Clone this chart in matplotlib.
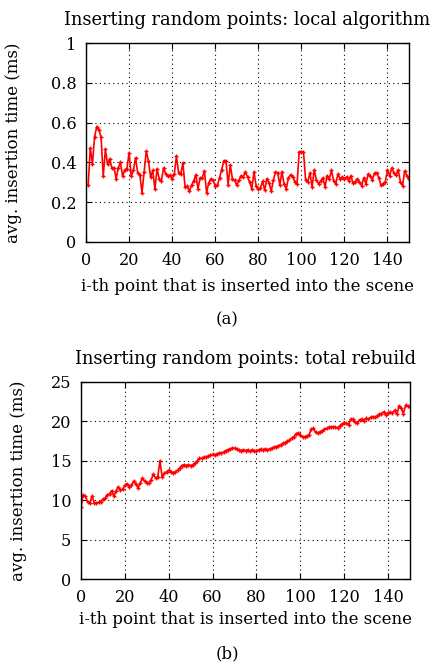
import numpy as np
import matplotlib
matplotlib.use("Agg")
import matplotlib.pyplot as plt

# avg. insertion time (ms), local algorithm
local_ms = [
    0.285, 0.473, 0.393, 0.53, 0.58, 0.563, 0.527, 0.33, 0.465, 0.39,
    0.418, 0.373, 0.372, 0.318, 0.373, 0.4, 0.33, 0.363, 0.368, 0.448,
    0.33, 0.36, 0.423, 0.347, 0.338, 0.248, 0.352, 0.457, 0.407, 0.327,
    0.36, 0.265, 0.368, 0.317, 0.307, 0.372, 0.343, 0.33, 0.335, 0.318,
    0.34, 0.432, 0.347, 0.342, 0.398, 0.277, 0.28, 0.255, 0.285, 0.307,
    0.338, 0.268, 0.322, 0.323, 0.357, 0.247, 0.298, 0.317, 0.31, 0.282,
    0.285, 0.322, 0.363, 0.408, 0.408, 0.288, 0.387, 0.317, 0.31, 0.285,
    0.31, 0.333, 0.327, 0.352, 0.327, 0.3, 0.268, 0.352, 0.283, 0.265,
    0.272, 0.305, 0.26, 0.318, 0.298, 0.255, 0.31, 0.352, 0.348, 0.288,
    0.352, 0.29, 0.268, 0.322, 0.338, 0.327, 0.302, 0.29, 0.453, 0.453,
    0.453, 0.31, 0.302, 0.347, 0.277, 0.363, 0.31, 0.293, 0.307, 0.322,
    0.277, 0.333, 0.318, 0.36, 0.307, 0.293, 0.34, 0.318, 0.327, 0.317,
    0.327, 0.307, 0.332, 0.297, 0.302, 0.318, 0.302, 0.283, 0.322, 0.293,
    0.34, 0.332, 0.313, 0.347, 0.347, 0.322, 0.285, 0.293, 0.302, 0.363,
    0.332, 0.372, 0.347, 0.335, 0.363, 0.302, 0.283, 0.357, 0.332, 0.315,
]

# avg. insertion time (ms), total rebuild
rebuild_ms = [
    9.1, 10.7, 10.5, 9.8, 9.6, 10.5, 9.7, 9.6, 9.75, 9.8,
    10.1, 10.25, 10.7, 10.8, 11.2, 10.5, 11.2, 11.7, 11.3, 11.4,
    11.9, 12.1, 11.7, 11.9, 12.4, 12.0, 11.6, 12.15, 12.8, 12.4,
    12.15, 12.2, 12.6, 13.3, 12.8, 13.0, 15.0, 12.9, 13.4, 13.6,
    13.8, 13.6, 13.5, 13.6, 13.8, 14.1, 14.4, 14.5, 14.4, 14.5,
    14.4, 14.5, 14.7, 15.0, 15.3, 15.3, 15.45, 15.45, 15.6, 15.7,
    15.8, 15.7, 15.9, 15.95, 16.0, 16.1, 16.3, 16.4, 16.5, 16.6,
    16.6, 16.5, 16.4, 16.3, 16.4, 16.3, 16.4, 16.2, 16.4, 16.3,
    16.25, 16.4, 16.45, 16.4, 16.5, 16.4, 16.5, 16.6, 16.7, 16.8,
    16.9, 17.05, 17.2, 17.3, 17.5, 17.6, 17.85, 18.05, 18.4, 18.55,
    18.3, 18.05, 18.05, 18.15, 18.3, 19.0, 19.1, 18.6, 18.5, 18.7,
    18.8, 19.0, 19.1, 19.25, 19.25, 19.3, 19.25, 19.2, 19.45, 19.7,
    19.75, 19.75, 19.6, 20.3, 20.25, 19.9, 19.8, 20.2, 20.3, 20.1,
    20.4, 20.25, 20.5, 20.6, 20.5, 20.7, 20.9, 21.0, 21.2, 20.8,
    21.1, 21.15, 21.1, 21.4, 20.9, 21.95, 21.65, 21.0, 22.05, 21.95,
    21.85,
]

x_ticks = [0, 20, 40, 60, 80, 100, 120, 140]
local_yticks = [0, 0.2, 0.4, 0.6, 0.8, 1]
local_ylabels = ["0", "0.2", "0.4", "0.6", "0.8", "1"]
rebuild_yticks = [0, 5, 10, 15, 20, 25]

plt.rcParams["font.family"] = ["DejaVu Serif"]
plt.rcParams["font.size"] = 12

fig = plt.figure(figsize=(4.33, 6.66), dpi=100)
ax1 = fig.add_axes([86 / 433, 1 - 242 / 666, 323 / 433, 199 / 666])
ax2 = fig.add_axes([81 / 433, 1 - 579 / 666, 329 / 433, 197 / 666])


def style(ax, xlab_y, ylab_x):
    ax.grid(True, linestyle=(0, (1, 3)), color="black", linewidth=0.8)
    ax.tick_params(direction="in", top=True, right=True, length=4,
                   labelsize=11.6)
    ax.tick_params(axis="x", pad=7)
    ax.tick_params(axis="y", pad=7)
    ax.set_xlim(0, 150)
    ax.set_xticks(x_ticks)
    for s in ax.spines.values():
        s.set_linewidth(1.0)
    ax.set_xlabel("i-th point that is inserted into the scene", fontsize=12)
    ax.set_ylabel("avg. insertion time (ms)", fontsize=12)
    ax.xaxis.set_label_coords(0.5, xlab_y)
    ax.yaxis.set_label_coords(ylab_x, 0.5)


ax1.plot(np.arange(1, len(local_ms) + 1), local_ms, color="red", lw=1.2,
         marker="+", ms=3.5, mew=1.0)
style(ax1, -0.183, -0.198)
ax1.set_ylim(0, 1)
ax1.set_yticks(local_yticks)
ax1.set_yticklabels(local_ylabels)
ax1.set_title("Inserting random points: local algorithm", pad=13, fontsize=12.9)

ax2.plot(np.arange(0, len(rebuild_ms)), rebuild_ms, color="red", lw=1.2,
         marker="+", ms=3.5, mew=1.0)
style(ax2, -0.163, -0.164)
ax2.set_ylim(0, 25)
ax2.set_yticks(rebuild_yticks)
ax2.set_title("Inserting random points: total rebuild", pad=13, fontsize=12.9)

fig.text(227 / 433, 1 - 320 / 666, "(a)", ha="center", va="center", fontsize=12)
fig.text(227 / 433, 1 - 654 / 666, "(b)", ha="center", va="center", fontsize=12)

fig.savefig("out.png", dpi=100)
